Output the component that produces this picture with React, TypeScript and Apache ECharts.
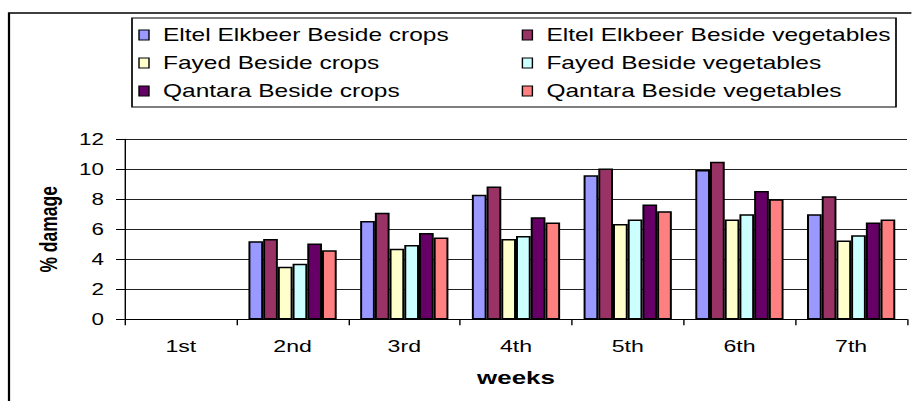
import React, { useEffect, useRef } from "react";
import * as echarts from "echarts";

const weeks = ["1st", "2nd", "3rd", "4th", "5th", "6th", "7th"];
const seriesNames = [
  "Eltel Elkbeer Beside crops",
  "Eltel Elkbeer Beside vegetables",
  "Fayed Beside crops",
  "Fayed Beside vegetables",
  "Qantara Beside crops",
  "Qantara Beside vegetables",
];
const eltelCrops = [null, 5.2, 6.55, 8.3, 9.6, 9.95, 7.0];
const eltelVeg = [null, 5.35, 7.1, 8.85, 10.05, 10.5, 8.2];
const fayedCrops = [null, 3.5, 4.7, 5.35, 6.35, 6.65, 5.25];
const fayedVeg = [null, 3.7, 4.95, 5.55, 6.65, 7.0, 5.6];
const qantaraCrops = [null, 5.05, 5.75, 6.8, 7.65, 8.55, 6.45];
const qantaraVeg = [null, 4.6, 5.45, 6.45, 7.2, 8.0, 6.65];
const seriesValues = [eltelCrops, eltelVeg, fayedCrops, fayedVeg, qantaraCrops, qantaraVeg];
const colors = ["#9999FF", "#993366", "#FFFFCC", "#CCFFFF", "#660066", "#FF8080"];
const yTicks = { min: 0, max: 12, interval: 2 };

const S = 1.4;
const W = 912 / S;
const FONT = "'Liberation Sans', Arial, sans-serif";

export default function App() {
  const ref = useRef<HTMLDivElement>(null);
  useEffect(() => {
    document.body.style.margin = "0";
    document.body.style.overflow = "hidden";
    const chart = echarts.init(ref.current!, null, { renderer: "svg" });
    const legendCommon = {
      orient: "vertical",
      top: 26,
      padding: 0,
      itemWidth: 10 / S,
      itemHeight: 10,
      itemGap: 10,
      icon: "rect",
      itemStyle: { borderColor: "#000", borderWidth: 1 },
      textStyle: { fontSize: 17.5, lineHeight: 18, color: "#000", fontFamily: FONT, padding: [0, 0, 0, 5] },
    };
    chart.setOption({
      animation: false,
      backgroundColor: "#fff",
      textStyle: { fontFamily: FONT },
      grid: { left: 125 / S, right: W - 907.6 / S, top: 139.3, bottom: 401 - 319.3, containLabel: false },
      legend: [
        { ...legendCommon, left: 138.3 / S, data: [seriesNames[0], seriesNames[2], seriesNames[4]] },
        { ...legendCommon, left: 521.7 / S, data: [seriesNames[1], seriesNames[3], seriesNames[5]] },
      ],
      graphic: [
        {
          type: "rect",
          silent: true,
          shape: { x: 9 / S, y: 13, width: W, height: 420 },
          style: { fill: "none", stroke: "#000", lineWidth: 1.6 },
        },
        {
          type: "rect",
          silent: true,
          shape: { x: 132 / S, y: 18, width: (896 - 132) / S, height: 89 },
          style: { fill: "none", stroke: "#000", lineWidth: 1.2 },
        },
      ],
      xAxis: {
        type: "category",
        data: weeks,
        axisLine: { show: true, lineStyle: { color: "#000", width: 1 } },
        axisTick: { show: true, length: 6, lineStyle: { color: "#000" } },
        axisLabel: { fontSize: 16.5, color: "#000", margin: 18, fontFamily: FONT },
        name: "weeks",
        nameLocation: "middle",
        nameGap: 49,
        nameTextStyle: { fontSize: 18.5, fontWeight: "bold", color: "#000", fontFamily: FONT },
      },
      yAxis: {
        type: "value",
        ...yTicks,
        axisLine: { show: true, lineStyle: { color: "#000", width: 1 } },
        axisTick: { show: true, length: 9 / S, lineStyle: { color: "#000" } },
        axisLabel: { fontSize: 16, color: "#000", margin: 15, fontFamily: FONT },
        splitLine: { show: true, lineStyle: { color: "#222", width: 1.2 } },
        name: "% damage",
        nameLocation: "middle",
        nameRotate: 90,
        nameGap: 45,
        nameTextStyle: { fontSize: 17.5, fontWeight: "bold", color: "#000", fontFamily: FONT },
      },
      series: seriesNames.map((name, i) => ({
        name,
        type: "bar",
        data: seriesValues[i],
        barGap: "0%",
        barCategoryGap: "21%",
        itemStyle: { color: colors[i], borderColor: "#000", borderWidth: 1.4 },
      })),
    });
    return () => chart.dispose();
  }, []);
  return (
    <div
      ref={ref}
      style={{
        position: "absolute",
        left: 0,
        top: 0,
        width: W,
        height: 401,
        transform: `scaleX(${S})`,
        transformOrigin: "0 0",
      }}
    />
  );
}
